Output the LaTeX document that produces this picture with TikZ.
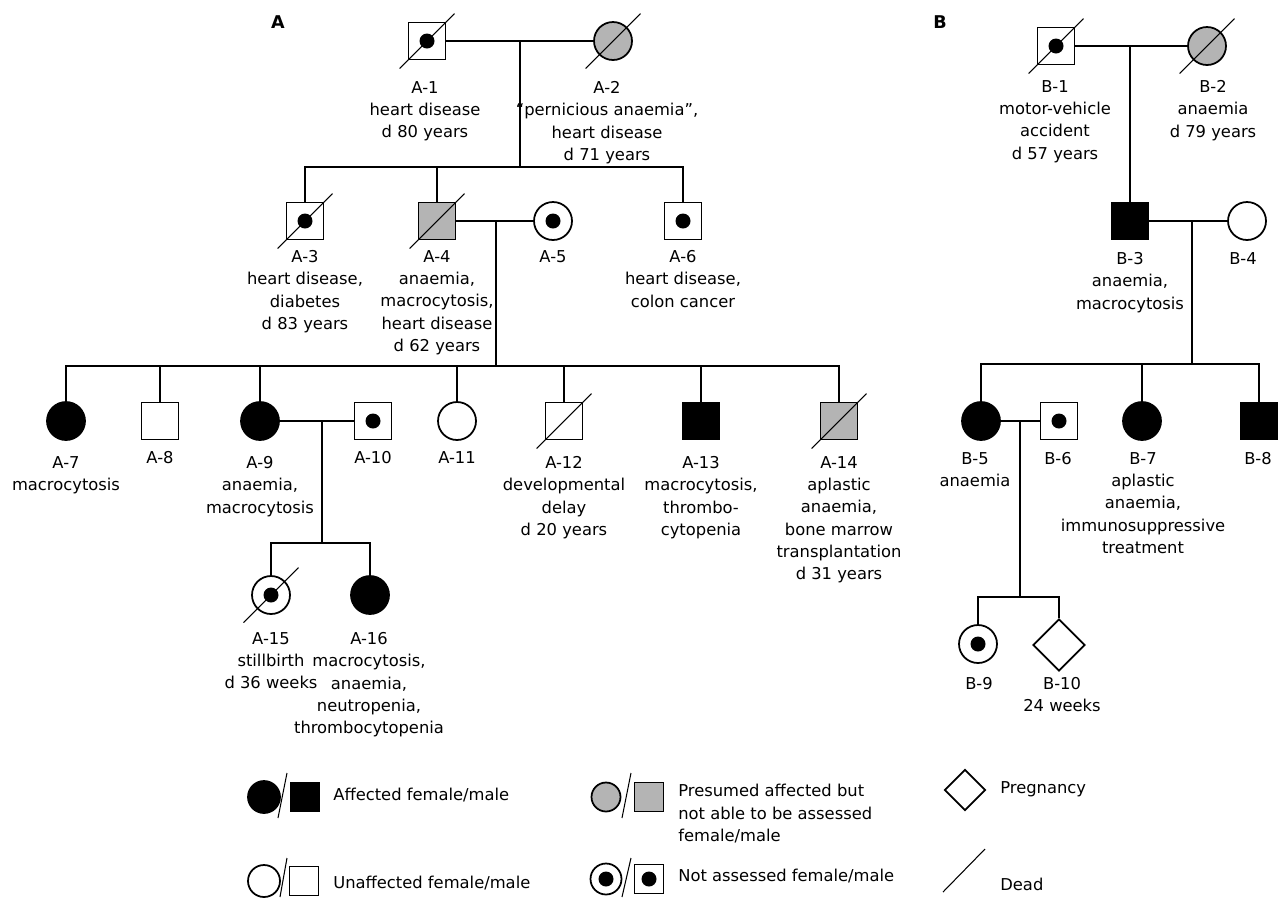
\documentclass[tikz,border=0pt]{standalone}
\usepackage{fontspec}
\setmainfont{DejaVu Sans}
\usetikzlibrary{shapes.geometric}
\definecolor{shade}{RGB}{180,180,180}

\begin{document}
\begin{tikzpicture}[x=0.02cm,y=-0.02cm,
  male/.style={draw,line width=1pt,rectangle,minimum size=0.74cm},
  female/.style={draw,line width=1pt,circle,minimum size=0.76cm},
  preg/.style={draw,line width=1pt,diamond,aspect=1,minimum width=1.04cm,minimum height=1.04cm},
  aff/.style={fill=black},
  pres/.style={fill=shade},
  noas/.style={path picture={\fill (path picture bounding box.center) circle (0.15cm);}},
  lab/.style={anchor=north,align=center,font=\fontsize{9.3}{12.7}\selectfont},
  legtext/.style={anchor=west,align=left,font=\fontsize{9.3}{12.7}\selectfont},
  marr/.style={line width=1.2pt},
  thinl/.style={line width=0.7pt},
  slash/.style={line width=0.6pt}]
\tikzstyle{every node}+=[inner sep=0pt]
\useasboundingbox (0,0) rectangle (1278,897);
\node[font=\fontsize{10}{12}\selectfont\bfseries] (pa) at (278,22) {A};
\node[font=\fontsize{10}{12}\selectfont\bfseries] (pb) at (940,22) {B};
% family A
\node[male,noas] (a1) at (427,41) {};
\node[female,pres] (a2) at (613,41) {};
\node[lab] (a1l) at (425,81) {A-1\\heart disease\\d 80 years};
\node[lab] (a2l) at (607,81) {A-2\\“pernicious anaemia”,\\heart disease\\d 71 years};
\draw[marr] (a1) -- (a2);%A-1 -- A-2
\coordinate (m1) at (520,41);
\coordinate (s1) at (520,167);
\draw[marr] (m1) -- (s1);
\node[male,noas] (a3) at (305,221) {};
\node[male,pres] (a4) at (437,221) {};
\node[female,noas] (a5) at (553,221) {};
\node[male,noas] (a6) at (683,221) {};
\node[lab] (a3l) at (305,250) {A-3\\heart disease,\\diabetes\\d 83 years};
\node[lab] (a4l) at (437,250) {A-4\\anaemia,\\macrocytosis,\\heart disease\\d 62 years};
\node[lab] (a5l) at (553,250) {A-5};
\node[lab] (a6l) at (683,250) {A-6\\heart disease,\\colon cancer};
\draw[marr] (a3) -- (a3 |- s1) -- (a6 |- s1) -- (a6);
\draw[marr] (a4) -- (a4 |- s1);
\draw[marr] (a4) -- (a5);%A-4 -- A-5
\coordinate (m2) at (496,221);
\coordinate (s2) at (496,366);
\draw[thinl] (m2) -- (s2);
\node[female,aff] (a7) at (66,421) {};
\node[male] (a8) at (160,421) {};
\node[female,aff] (a9) at (260,421) {};
\node[male,noas] (a10) at (373,421) {};
\node[female] (a11) at (457,421) {};
\node[male] (a12) at (564,421) {};
\node[male,aff] (a13) at (701,421) {};
\node[male,pres] (a14) at (839,421) {};
\node[lab] (a7l) at (66,456) {A-7\\macrocytosis};
\node[lab] (a8l) at (160,451) {A-8};
\node[lab] (a9l) at (260,456) {A-9\\anaemia,\\macrocytosis};
\node[lab] (a10l) at (373,451) {A-10};
\node[lab] (a11l) at (457,451) {A-11};
\node[lab] (a12l) at (564,456) {A-12\\developmental\\delay\\d 20 years};
\node[lab] (a13l) at (701,456) {A-13\\macrocytosis,\\thrombo-\\cytopenia};
\node[lab] (a14l) at (839,456) {A-14\\aplastic\\anaemia,\\bone marrow\\transplantation\\d 31 years};
\draw[thinl] (a7) -- (a7 |- s2) -- (a14 |- s2) -- (a14);
\foreach \n in {a8,a9,a11,a12,a13}
  \draw[thinl] (\n) -- (\n |- s2);
\draw[thinl] (a9) -- (a10);%A-9 -- A-10
\coordinate (m3) at (322,421);
\coordinate (s3) at (322,543);
\draw[thinl] (m3) -- (s3);
\node[female,noas] (a15) at (271,595) {};
\node[female,aff] (a16) at (370,595) {};
\node[lab] (a15l) at (271,632) {A-15\\stillbirth\\d 36 weeks};
\node[lab] (a16l) at (369,632) {A-16\\macrocytosis,\\anaemia,\\neutropenia,\\thrombocytopenia};
\draw[marr] (a15) -- (a15 |- s3) -- (a16 |- s3) -- (a16);
% family B
\node[male,noas] (b1) at (1056,46) {};
\node[female,pres] (b2) at (1207,46) {};
\node[lab] (b1l) at (1055,80) {B-1\\motor-vehicle\\accident\\d 57 years};
\node[lab] (b2l) at (1213,80) {B-2\\anaemia\\d 79 years};
\draw[marr] (b1) -- (b2);%B-1 -- B-2
\coordinate (m4) at (1130,46);
\node[male,aff] (b3) at (1130,221) {};
\node[female] (b4) at (1247,221) {};
\node[lab] (b3l) at (1130,252) {B-3\\anaemia,\\macrocytosis};
\node[lab] (b4l) at (1243,252) {B-4};
\draw[marr] (m4) -- (b3);
\draw[thinl] (b3) -- (b4);%B-3 -- B-4
\coordinate (m5) at (1192,221);
\coordinate (s5) at (1192,364);
\draw[thinl] (m5) -- (s5);
\node[female,aff] (b5) at (981,421) {};
\node[male,noas] (b6) at (1059,421) {};
\node[female,aff] (b7) at (1142,421) {};
\node[male,aff] (b8) at (1259,421) {};
\node[lab] (b5l) at (975,452) {B-5\\anaemia};
\node[lab] (b6l) at (1058,452) {B-6};
\node[lab] (b7l) at (1143,452) {B-7\\aplastic\\anaemia,\\immunosuppressive\\treatment};
\node[lab] (b8l) at (1258,452) {B-8};
\draw[thinl] (b5) -- (b5 |- s5) -- (b8 |- s5) -- (b8);
\draw[thinl] (b7) -- (b7 |- s5);
\draw[thinl] (b5) -- (b6);%B-5 -- B-6
\coordinate (m6) at (1020,421);
\coordinate (s6) at (1020,597);
\draw[thinl] (m6) -- (s6);
\node[female,noas] (b9) at (978,644) {};
\node[preg] (b10) at (1059,645) {};
\node[lab] (b9l) at (979,677) {B-9};
\node[lab] (b10l) at (1062,677) {B-10\\24 weeks};
\draw[thinl] (b9) -- (b9 |- s6) -- (b10 |- s6) -- (b10);
% dead
\foreach \n in {a1,a2,a3,a4,a12,a14,a15,b1,b2}
  \draw[slash] ([shift={(-0.55cm,-0.55cm)}]\n.center) -- ([shift={(0.55cm,0.55cm)}]\n.center);
% legend
\node[female,aff,minimum size=0.64cm] (k1f) at (264,797) {};
\node[male,aff,minimum size=0.58cm] (k1m) at (305,797) {};
\draw[slash] (278,818) -- (287,773);
\node[legtext] (k1t) at (333,795) {Affected female/male};
\node[female,minimum size=0.64cm] (k2f) at (264,881) {};
\node[male,minimum size=0.58cm] (k2m) at (304,881) {};
\draw[slash] (280,897) -- (287,858);
\node[legtext] (k2t) at (333,883) {Unaffected female/male};
\node[female,pres,minimum size=0.58cm] (k3f) at (606,797) {};
\node[male,pres,minimum size=0.58cm] (k3m) at (649,797) {};
\draw[slash] (622,818) -- (631,773);
\node[legtext,anchor=north west] (k3t) at (678,784) {Presumed affected but\\not able to be assessed\\female/male};
\node[female,noas,minimum size=0.62cm] (k4f) at (606,879) {};
\node[male,noas,minimum size=0.58cm] (k4m) at (649,879) {};
\draw[slash] (622,897) -- (631,858);
\node[legtext] (k4t) at (678,876) {Not assessed female/male};
\node[preg,minimum width=0.82cm,minimum height=0.82cm] (k5) at (965,790) {};
\node[legtext] (k5t) at (1000,789) {Pregnancy};
\draw[slash] (943,892) -- (985,849);
\node[legtext] (k6t) at (1000,884) {Dead};
\end{tikzpicture}
\end{document}
